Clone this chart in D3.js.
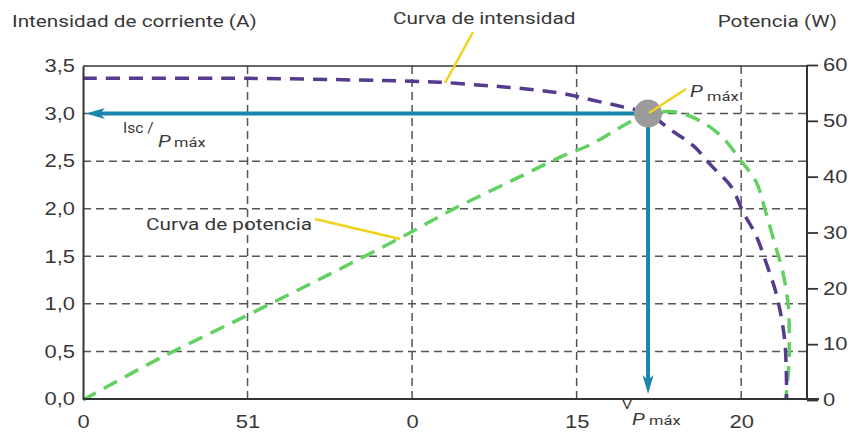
<!DOCTYPE html>
<html>
<head>
<meta charset="utf-8">
<script src="https://cdn.jsdelivr.net/npm/d3@7"></script>
<style>
  html, body { margin: 0; padding: 0; background: #fff; }
  svg { display: block; font-family: Roboto, "Open Sans", sans-serif; }
</style>
</head>
<body>
<svg id="chart" width="854" height="438"></svg>
<script>
// ---- data ----
const xTickValues = [0, 5, 10, 15, 20];
const xTickLabels = ["0", "51", "0", "15", "20"];
const leftTickValues = [0, 0.5, 1.0, 1.5, 2.0, 2.5, 3.0, 3.5];
const rightTickValues = [0, 10, 20, 30, 40, 50, 60];

const intensityV = [0, 5, 10, 10.85, 12.0, 12.8, 13.7, 14.6, 15.5, 16.4, 17.17, 17.85, 18.55, 19.1, 19.7, 20.05, 20.45, 20.75, 21.03, 21.22, 21.33, 21.37, 21.38];
const intensityI = [3.37, 3.37, 3.34, 3.33, 3.30, 3.28, 3.25, 3.21, 3.14, 3.07, 3.0, 2.83, 2.66, 2.45, 2.23, 1.97, 1.72, 1.44, 1.15, 0.86, 0.59, 0.29, 0];

const powerV = [0, 2.34, 5, 7.45, 9.82, 11.19, 13, 14.65, 15.41, 16.2, 16.75, 17.17, 18.0, 18.75, 19.42, 20.0, 20.46, 20.73, 21.03, 21.25, 21.43, 21.46, 21.45, 21.35];
const powerP = [0, 7.5, 15.2, 22.4, 29.6, 34.0, 39.2, 43.9, 45.7, 48.4, 50.2, 51.2, 51.6, 50.0, 47.1, 42.8, 39.0, 34.0, 27.8, 23.3, 17.0, 11.1, 6.4, 0];

const pMaxV = 17.17;
const pMaxI = 3.0;

(function () {
// ---- layout ----
const svg = d3.select("#chart");
const L = 83, R = 807, T = 66, B = 399;
const SX = 1.22; // horizontal stretch of the reference lettering
const x = d3.scaleLinear().domain([0, 22]).range([L, R]);
const yL = d3.scaleLinear().domain([0, 3.5]).range([B, T]);
const yR = d3.scaleLinear().domain([0, 60]).range([400, 65]);

const textColor = "#383838";
const gridColor = "#555";

// gridlines
const grid = svg.append("g");
grid.selectAll("line.h").data(leftTickValues.filter(v => v > 0 && v < 3.5)).join("line")
  .attr("x1", L).attr("x2", R)
  .attr("y1", d => yL(d)).attr("y2", d => yL(d))
  .attr("stroke", gridColor).attr("stroke-width", 1.5).attr("stroke-dasharray", "8,5");
grid.selectAll("line.v").data(xTickValues.filter(v => v > 0)).join("line")
  .attr("x1", d => x(d)).attr("x2", d => x(d))
  .attr("y1", T).attr("y2", B)
  .attr("stroke", gridColor).attr("stroke-width", 1.5).attr("stroke-dasharray", "8,5");

// frame line (top)
svg.append("line").attr("x1", L).attr("x2", R).attr("y1", T).attr("y2", T)
  .attr("stroke", "#333").attr("stroke-width", 1.5);

// curves
const line = d3.line().curve(d3.curveCatmullRom.alpha(0.5));
const powerPts = powerV.map((v, i) => [x(v), yR(powerP[i])]);
const intensityPts = intensityV.map((v, i) => [x(v), yL(intensityI[i])]);

svg.append("path").attr("d", line(powerPts))
  .attr("fill", "none").attr("stroke", "#62d162").attr("stroke-width", 3.5)
  .attr("stroke-dasharray", "15,9");
svg.append("path").attr("d", line(intensityPts))
  .attr("fill", "none").attr("stroke", "#553a8e").attr("stroke-width", 3.5)
  .attr("stroke-dasharray", "14,9");

// axes
const tickFont = 18;
const axL = svg.append("g").attr("transform", `translate(${L},0)`)
  .call(d3.axisLeft(yL).tickValues(leftTickValues).tickSize(0).tickPadding(8)
    .tickFormat(d => d3.format(".1f")(d).replace(".", ",")));
axL.select(".domain").attr("stroke", "#333").attr("stroke-width", 2);
axL.selectAll("text").attr("font-size", tickFont).attr("fill", textColor)
  .attr("x", -8 / SX).attr("transform", `scale(${SX},1)`);

const axR = svg.append("g").attr("transform", `translate(${R},0)`)
  .call(d3.axisRight(yR).tickValues(rightTickValues).tickSize(11).tickPadding(5));
axR.select(".domain").attr("stroke", "#333").attr("stroke-width", 2).attr("d", `M0,${yR(60)}V${yR(0)}`);
axR.selectAll(".tick line").attr("stroke", "#333").attr("stroke-width", 1.8);
axR.selectAll("text").attr("font-size", tickFont).attr("fill", textColor)
  .attr("x", 16 / SX).attr("transform", `scale(${SX},1)`);

const axB = svg.append("g").attr("transform", `translate(0,${B})`)
  .call(d3.axisBottom(x).tickValues(xTickValues).tickSize(0).tickPadding(16)
    .tickFormat((d, i) => xTickLabels[i]));
axB.select(".domain").attr("stroke", "#333").attr("stroke-width", 2).attr("d", `M${L},0H${R + 12}`);
axB.selectAll("text").attr("font-size", tickFont).attr("fill", textColor)
  .attr("transform", `scale(${SX},1)`);

// blue arrows
const blue = "#1a86ae";
const cx = x(pMaxV), cy = yL(pMaxI);
svg.append("line").attr("x1", cx).attr("x2", L + 14).attr("y1", cy).attr("y2", cy)
  .attr("stroke", blue).attr("stroke-width", 4);
svg.append("path")
  .attr("d", `M${L + 3},${cy} L${L + 22},${cy - 5.5} L${L + 17},${cy} L${L + 22},${cy + 5.5} Z`)
  .attr("fill", blue);
svg.append("line").attr("x1", cx).attr("x2", cx).attr("y1", cy).attr("y2", B - 18)
  .attr("stroke", blue).attr("stroke-width", 4);
svg.append("path")
  .attr("d", `M${cx},${B - 5} L${cx - 5.5},${B - 24} L${cx},${B - 19} L${cx + 5.5},${B - 24} Z`)
  .attr("fill", blue);

// P max circle
svg.append("circle").attr("cx", cx).attr("cy", cy).attr("r", 14).attr("fill", "#9b9b9b");

// yellow leaders
const yellow = "#f0d21a";
const leaders = [
  [[473, 32], [445, 83]],
  [[315, 219], [400, 239]],
  [[686, 89], [649, 113]]
];
svg.selectAll("line.leader").data(leaders).join("line")
  .attr("x1", d => d[0][0]).attr("y1", d => d[0][1])
  .attr("x2", d => d[1][0]).attr("y2", d => d[1][1])
  .attr("stroke", yellow).attr("stroke-width", 2.5);

// texts
function txt(xp, yp, s, size, anchor, style, sx) {
  return svg.append("text")
    .attr("transform", `translate(${xp},${yp}) scale(${sx || SX},1)`)
    .attr("font-size", size)
    .attr("fill", textColor).attr("text-anchor", anchor || "start")
    .attr("font-style", style || "normal").text(s);
}
txt(12, 27, "Intensidad de corriente (A)", 17);
txt(837, 27, "Potencia (W)", 17, "end");
txt(393, 24, "Curva de intensidad", 17);
txt(146, 230, "Curva de potencia", 17);

// P máx label
txt(690, 97, "P", 17, "start", "italic");
txt(707, 101, "máx", 13.5);

// Isc / P máx
txt(123, 133, "Isc /", 15.5, "start", "normal", 1.0);
txt(158, 147, "P", 17, "start", "italic");
txt(174, 147, "máx", 13.5);

// V P máx
txt(622, 409, "V", 13);
txt(632, 425, "P", 17, "start", "italic");
txt(649, 425, "máx", 13.5);
})();
</script>
</body>
</html>
